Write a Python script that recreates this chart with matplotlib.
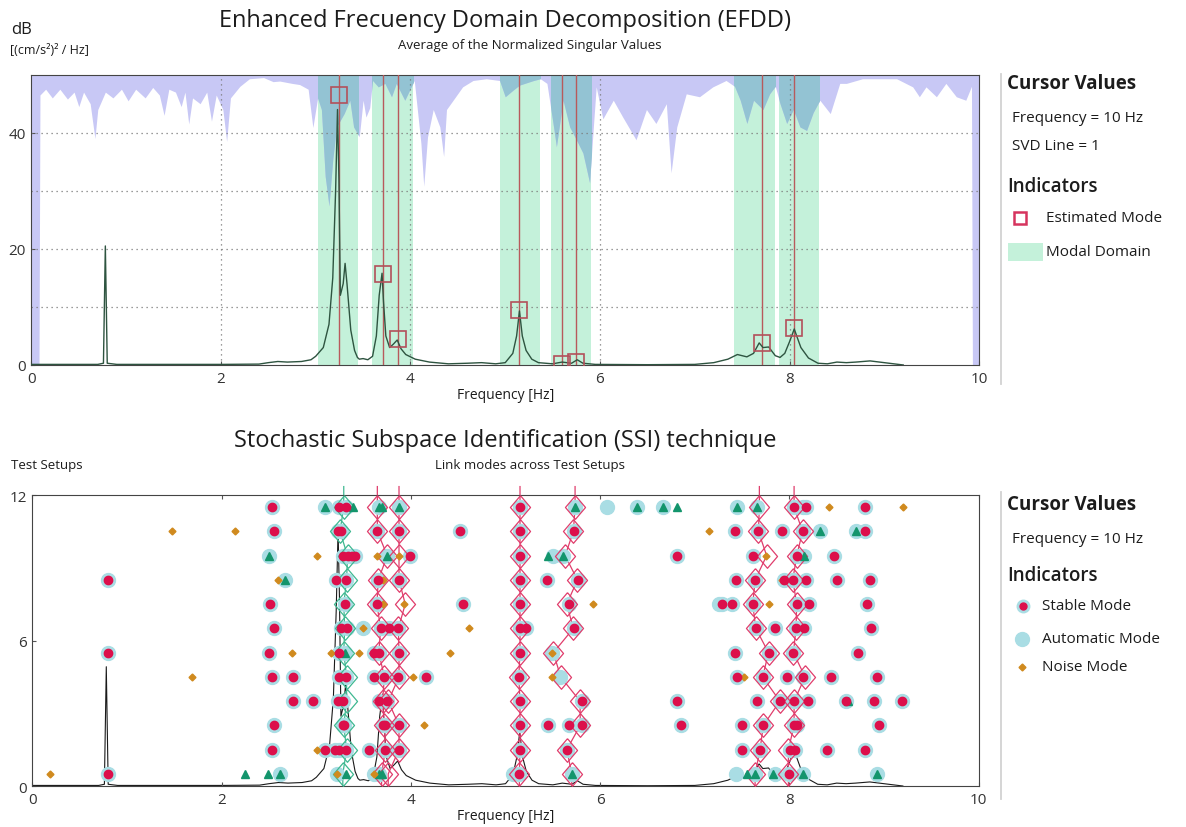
import matplotlib
matplotlib.use("Agg")
import matplotlib.pyplot as plt
from matplotlib.patches import Rectangle

plt.rcParams['font.family'] = ['Open Sans', 'DejaVu Sans']

# ---------------- EFDD data ----------------
# averaged singular value spectrum (dB)
spec_freq = [0.0, 0.7, 0.76, 0.78, 0.80, 0.9, 2.0, 2.4, 2.5, 2.6, 2.7, 2.85, 2.95, 3.0, 3.08,
             3.14, 3.18, 3.21, 3.23, 3.245, 3.26, 3.29, 3.31, 3.33, 3.37, 3.41, 3.44, 3.46, 3.5,
             3.55, 3.6, 3.64, 3.67, 3.70, 3.715, 3.74, 3.78, 3.82, 3.86, 3.9, 3.95, 4.05, 4.2,
             4.4, 4.6, 4.75, 4.9, 5.0, 5.08, 5.12, 5.15, 5.18, 5.22, 5.28, 5.35, 5.5, 5.6, 5.7,
             5.76, 5.82, 5.95, 6.5, 7.0, 7.2, 7.35, 7.45, 7.55, 7.62, 7.68, 7.72, 7.78, 7.85,
             7.9, 7.95, 8.0, 8.05, 8.08, 8.12, 8.2, 8.3, 8.4, 8.5, 8.6, 8.7, 8.85, 8.95, 9.1, 9.2]
spec_db = [0.1, 0.1, 0.3, 20.5, 0.3, 0.1, 0.1, 0.15, 0.4, 0.6, 0.5, 0.6, 0.9, 1.5, 3.0,
           7.0, 15.0, 30.0, 44.0, 32.0, 12.0, 14.0, 17.5, 14.0, 6.0, 2.5, 1.3, 1.0, 1.1,
           0.9, 1.5, 5.0, 12.0, 15.8, 11.0, 5.0, 3.0, 3.6, 4.3, 2.8, 1.8, 1.0, 0.5,
           0.2, 0.3, 0.4, 0.2, 0.4, 2.0, 5.0, 9.3, 5.0, 2.5, 1.0, 0.4, 0.2, 0.5, 0.3,
           0.9, 0.3, 0.1, 0.05, 0.1, 0.4, 1.0, 1.8, 1.4, 2.0, 3.8, 3.0, 3.1, 1.6,
           1.3, 2.0, 4.0, 6.2, 4.8, 3.0, 1.2, 0.3, 0.2, 0.5, 0.4, 0.5, 0.7, 0.5, 0.2, 0.0]

# lower edge of the normalized singular value band (filled up to the top)
svd_freq = [0.0, 0.08, 0.09, 0.15, 0.22, 0.3, 0.38, 0.45, 0.5, 0.55, 0.62, 0.67, 0.7, 0.78,
            0.86, 0.95, 1.02, 1.1, 1.2, 1.28, 1.35, 1.4, 1.45, 1.52, 1.58, 1.62, 1.66, 1.7,
            1.78, 1.85, 1.9, 1.95, 2.02, 2.06, 2.1, 2.2, 2.3, 2.45, 2.55, 2.62, 2.75, 2.83,
            2.92, 2.97, 3.02, 3.06, 3.10, 3.14, 3.18, 3.22, 3.3, 3.36, 3.40, 3.46, 3.50,
            3.53, 3.57, 3.60, 3.66, 3.73, 3.80, 3.85, 3.94, 4.04, 4.11, 4.14, 4.18, 4.24,
            4.31, 4.35, 4.38, 4.45, 4.55, 4.66, 4.80, 4.94, 5.0, 5.08, 5.15, 5.3, 5.37,
            5.44, 5.51, 5.54, 5.61, 5.68, 5.75, 5.82, 5.89, 5.93, 5.96, 6.03, 6.14, 6.24,
            6.38, 6.49, 6.59, 6.70, 6.75, 6.81, 6.91, 7.05, 7.19, 7.33, 7.42, 7.48, 7.55,
            7.62, 7.72, 7.79, 7.85, 7.90, 7.97, 8.04, 8.11, 8.18, 8.25, 8.32, 8.43, 8.53,
            8.60, 8.77, 9.13, 9.30, 9.37, 9.44, 9.55, 9.65, 9.76, 9.86, 9.92, 9.93, 10.0]
svd_db = [0.0, 0.0, 46.5, 47.5, 46.0, 47.5, 45.8, 47.0, 44.5, 47.0, 45.0, 39.0, 44.0, 47.0,
          46.0, 47.5, 45.5, 47.5, 46.0, 47.8, 46.5, 43.0, 47.5, 47.0, 44.5, 47.0, 41.5, 46.0,
          45.0, 47.0, 42.0, 46.5, 44.0, 38.5, 46.0, 48.0, 49.3, 49.5, 48.8, 48.9, 48.5, 48.3,
          47.5, 40.9, 46.0, 44.0, 32.5, 27.4, 35.4, 41.0, 43.3, 45.6, 41.0, 39.3, 45.6,
          42.7, 44.3, 49.0, 47.9, 48.5, 46.2, 48.5, 45.6, 49.0, 38.2, 30.8, 39.3, 44.0,
          41.0, 35.9, 44.0, 45.6, 47.9, 49.0, 49.3, 49.0, 46.2, 47.3, 48.2, 49.0, 49.3,
          48.5, 41.0, 37.6, 45.6, 41.0, 38.8, 36.5, 31.4, 41.0, 47.9, 42.4, 45.6, 42.7,
          38.8, 44.0, 41.6, 45.0, 33.1, 41.0, 46.7, 46.2, 47.9, 49.0, 48.0, 45.6, 41.6,
          45.6, 44.0, 46.7, 48.0, 45.0, 41.6, 44.0, 41.0, 40.4, 43.5, 45.6, 43.3, 48.5,
          48.5, 49.3, 49.3, 47.9, 46.2, 47.9, 46.2, 48.5, 46.2, 45.6, 48.0, 0.0, 0.0]

domain_lo = [3.02, 3.596, 4.94, 5.478, 7.415, 7.893]
domain_hi = [3.45, 4.022, 5.368, 5.91, 7.847, 8.311]

mode_freq = [3.25, 3.71, 3.87, 5.15, 5.60, 5.75, 7.71, 8.05]
mode_db = [46.5, 15.6, 4.4, 9.4, 0.2, 0.55, 3.8, 6.3]

# ---------------- SSI data (one list per test setup, 1..12) ----------------
setups = [1, 2, 3, 4, 5, 6, 7, 8, 9, 10, 11, 12]

stable_modes = [
    [0.795, 5.146, 7.998],
    [2.535, 3.092, 3.198, 3.244, 3.31, 3.557, 3.73, 3.874, 5.153, 5.646, 7.50, 7.69, 8.01, 8.06, 8.403, 8.80],
    [2.556, 3.279, 3.297, 3.70, 3.73, 3.874, 5.153, 5.452, 5.674, 5.805, 6.856, 7.50, 7.725, 8.05, 8.078, 8.945],
    [2.75, 2.962, 3.226, 3.279, 3.663, 3.751, 5.153, 5.805, 6.81, 7.66, 7.902, 8.05, 8.20, 8.60, 8.895, 9.188],
    [2.535, 2.756, 3.244, 3.31, 3.61, 3.72, 3.867, 4.16, 5.14, 7.45, 7.718, 7.973, 8.14, 8.438, 8.924],
    [0.795, 2.503, 3.244, 3.61, 3.663, 3.874, 5.153, 7.43, 7.78, 8.043, 8.73],
    [2.556, 3.261, 3.321, 3.68, 3.772, 3.867, 5.153, 5.216, 5.724, 7.645, 7.849, 8.071, 8.16, 8.864],
    [2.51, 3.303, 3.645, 4.555, 5.153, 5.67, 7.292, 7.394, 7.613, 8.078, 8.205, 8.825],
    [0.795, 3.21, 3.31, 3.655, 3.874, 5.153, 5.442, 5.77, 7.44, 7.638, 7.948, 8.036, 8.177, 8.501, 8.853],
    [3.279, 3.339, 3.374, 3.41, 3.99, 5.153, 6.81, 7.613, 8.078, 8.473],
    [2.556, 3.23, 3.265, 3.645, 3.874, 4.52, 5.153, 5.724, 7.422, 7.673, 7.92, 8.142, 8.80],
    [2.535, 3.244, 3.31, 5.153, 8.05, 8.177, 8.80],
]

auto_modes = [
    [2.617, 3.216, 3.61, 3.66, 5.083, 5.70, 7.437, 7.637, 7.849, 8.142, 8.924],
    [], [], [],
    [5.58],
    [3.30, 5.495],
    [3.497],
    [7.26],
    [2.67],
    [2.503, 3.751, 5.505, 5.611, 8.16],
    [8.325, 8.702],
    [3.092, 3.66, 3.874, 5.734, 6.069, 6.387, 6.668, 7.45, 7.66, 8.14],
]

tri_modes = [
    [2.247, 2.487, 2.617, 3.311, 3.66, 3.69, 5.70, 7.55, 7.637, 7.824, 8.142, 8.924],
    [], [],
    [8.62],
    [],
    [3.30],
    [], [],
    [2.67],
    [2.503, 3.751, 5.452, 5.611, 8.16],
    [8.325, 8.702],
    [3.092, 3.39, 3.66, 3.69, 3.874, 5.734, 6.387, 6.668, 6.817, 7.45, 7.66],
]

noise_modes = [
    [0.185, 3.216, 3.61],
    [3.004],
    [4.139],
    [],
    [1.682, 4.019, 5.495, 7.521],
    [2.74, 3.155, 3.455, 4.414, 5.495],
    [3.497, 4.618],
    [3.70, 3.927, 5.928, 7.78],
    [2.598, 3.70, 7.92],
    [3.004, 3.645, 3.874, 7.75],
    [1.478, 2.14, 7.152],
    [8.424, 9.199],
]

# modes linked across setups (frequency for setups 1..12)
green_chain = [3.28, 3.32, 3.29, 3.32, 3.32, 3.29, 3.30, 3.29, 3.32, 3.33, 3.25, 3.29]
red_chains = [
    [3.69, 3.73, 3.72, 3.70, 3.72, 3.66, 3.68, 3.64, 3.655, 3.75, 3.645, 3.645],
    [3.76, 3.874, 3.874, 3.76, 3.874, 3.874, 3.867, 3.94, 3.874, 3.874, 3.874, 3.874],
    [5.146, 5.153, 5.153, 5.153, 5.14, 5.153, 5.153, 5.153, 5.153, 5.153, 5.153, 5.153],
    [5.70, 5.647, 5.79, 5.788, 5.583, 5.506, 5.717, 5.647, 5.76, 5.63, 5.717, 5.735],
    [7.638, 7.69, 7.725, 7.90, 7.718, 7.78, 7.645, 7.613, 7.638, 7.76, 7.673, 7.683],
    [7.99, 7.99, 8.05, 8.05, 8.166, 8.043, 8.07, 8.078, 8.036, 8.078, 8.14, 8.05],
]

LAV = '#c8c8f5'
MINT = '#c4f1da'
OVER = '#93c3d3'
MODE_RED = '#b85a5c'
CYAN = '#a9dde4'
DOT = '#dc0f4b'
TRI = '#13956c'
NOISE = '#d08a1e'
PINK = '#e03d6c'
TEAL = '#3fb891'
TXT = '#1c1c1c'

# slightly elongated diamond used for the linked modes
tall_diamond = [(0, 1), (0.85, 0), (0, -1), (-0.85, 0), (0, 1)]

fig = plt.figure(figsize=(11.86, 8.28), dpi=100)

# ---------------- top panel ----------------
ax1 = fig.add_axes([0.0265, 0.558, 0.799, 0.3506])
ax1.set_xlim(0, 10)
ax1.set_ylim(0, 50)
ax1.fill_between(svd_freq, svd_db, 50, color=LAV, lw=0, zorder=1)
for lo, hi in zip(domain_lo, domain_hi):
    ax1.axvspan(lo, hi, color=MINT, lw=0, zorder=0.5)
    pc = ax1.fill_between(svd_freq, svd_db, 50, color=OVER, lw=0, zorder=1.1)
    pc.set_clip_path(Rectangle((lo, 0), hi - lo, 50, transform=ax1.transData))
for v in [2, 4, 6, 8]:
    ax1.axvline(v, color='#7a7a7a', ls=(0, (1, 3)), lw=0.9, zorder=2)
for v in [10, 20, 30, 40]:
    ax1.axhline(v, color='#7a7a7a', ls=(0, (1, 3)), lw=0.9, zorder=2)
for f in mode_freq:
    ax1.axvline(f, color=MODE_RED, lw=1.0, zorder=3)
ax1.plot(spec_freq, spec_db, color='#2e5440', lw=1.0, zorder=4)
ax1.plot(mode_freq, mode_db, 's', ms=12, mfc='none', mec='#b3505a', mew=1.2, ls='none', zorder=5)
ax1.set_xticks([0, 2, 4, 6, 8, 10])
ax1.set_yticks([0, 20, 40])
ax1.tick_params(direction='in', length=3, labelsize=11, labelcolor='#333', color='#555', pad=4)
ax1.set_xlabel('Frequency [Hz]', fontsize=10, labelpad=1, color=TXT)
for s in ax1.spines.values():
    s.set_color('#444')

# ---------------- bottom panel ----------------
ax2 = fig.add_axes([0.0274, 0.0495, 0.7977, 0.3514])
axs = ax2.twinx()
axs.set_ylim(0, 50)
axs.axis('off')
axs.plot(spec_freq, spec_db, color='#1a1a1a', lw=0.8)
ax2.set_zorder(2)
axs.set_zorder(1)
ax2.patch.set_visible(False)

ax2.set_xlim(0, 10)
ax2.set_ylim(0, 12)
pos = [s - 0.5 for s in setups]


def flat(modes):
    xs, ys = [], []
    for y, row in zip(pos, modes):
        xs += row
        ys += [y] * len(row)
    return xs, ys


sx, sy = flat(stable_modes)
ax_, ay_ = flat(auto_modes)
tx, ty = flat(tri_modes)
nx, ny = flat(noise_modes)

ax2.plot(green_chain[:1] + green_chain + green_chain[-1:], [0] + pos + [12.35],
         color=TEAL, lw=0.9, zorder=2, clip_on=False)
for ch in red_chains:
    ax2.plot(ch[:1] + ch + ch[-1:], [0] + pos + [12.35], color=PINK, lw=0.9, zorder=2, clip_on=False)

ax2.plot(sx + ax_, sy + ay_, 'o', ms=10, color=CYAN, ls='none', zorder=3)
ax2.plot(green_chain, pos, marker=tall_diamond, ms=17, mfc='none', mec=TEAL, mew=0.9, ls='none', zorder=4)
for ch in red_chains:
    ax2.plot(ch, pos, marker=tall_diamond, ms=17, mfc='none', mec=PINK, mew=0.9, ls='none', zorder=4)
ax2.plot(tx, ty, '^', ms=5.5, color=TRI, ls='none', zorder=5)
ax2.plot(nx, ny, 'D', ms=3.5, color=NOISE, ls='none', zorder=5)
ax2.plot(sx, sy, 'o', ms=6, color=DOT, ls='none', zorder=6)

ax2.set_xticks([0, 2, 4, 6, 8, 10])
ax2.set_yticks([0, 6, 12])
ax2.tick_params(direction='in', length=3, labelsize=11, labelcolor='#333', color='#555',
                pad=4, top=True)
ax2.set_xlabel('Frequency [Hz]', fontsize=10, labelpad=1, color=TXT)
for s in ax2.spines.values():
    s.set_color('#444')

# ---------------- titles and side panels (pixel coordinates) ----------------
axo = fig.add_axes([0, 0, 1, 1], zorder=10)
axo.set_xlim(0, 1186)
axo.set_ylim(828, 0)
axo.axis('off')

axo.text(505, 21, 'Enhanced Frecuency Domain Decomposition (EFDD)', fontsize=17, ha='center', va='center', color=TXT)
axo.text(530, 45, 'Average of the Normalized Singular Values', fontsize=9.5, ha='center', va='center', color=TXT)
axo.text(11, 30, 'dB', fontsize=12, ha='left', va='center', color=TXT)
axo.text(10, 50, '[(cm/s\u00b2)\u00b2 / Hz]', fontsize=9, ha='left', va='center', color=TXT)

axo.text(505, 441, 'Stochastic Subspace Identification (SSI) technique', fontsize=17, ha='center', va='center', color=TXT)
axo.text(530, 466, 'Link modes across Test Setups', fontsize=9.5, ha='center', va='center', color=TXT)
axo.text(11, 466, 'Test Setups', fontsize=9.5, ha='left', va='center', color=TXT)

axo.plot([1001, 1001], [75, 385], color='#d2d2d2', lw=1.3)
axo.plot([1001, 1001], [493, 800], color='#d2d2d2', lw=1.3)

axo.text(1007, 84, 'Cursor Values', fontsize=13.5, fontweight='bold', ha='left', va='center', color=TXT)
axo.text(1012, 118, 'Frequency = 10 Hz', fontsize=11, ha='left', va='center', color=TXT)
axo.text(1012, 146, 'SVD Line = 1', fontsize=11, ha='left', va='center', color=TXT)
axo.text(1007, 187, 'Indicators', fontsize=13.5, fontweight='semibold', ha='left', va='center', color=TXT)
axo.plot([1020], [219], 's', ms=9, mfc='none', mec='#d6345e', mew=1.8)
axo.text(1046, 219, 'Estimated Mode', fontsize=11, ha='left', va='center', color=TXT)
axo.add_patch(Rectangle((1008, 244), 35, 18, color=MINT, lw=0))
axo.text(1046, 253, 'Modal Domain', fontsize=11, ha='left', va='center', color=TXT)

axo.text(1007, 505, 'Cursor Values', fontsize=13.5, fontweight='bold', ha='left', va='center', color=TXT)
axo.text(1012, 540, 'Frequency = 10 Hz', fontsize=11, ha='left', va='center', color=TXT)
axo.text(1007, 576, 'Indicators', fontsize=13.5, fontweight='semibold', ha='left', va='center', color=TXT)
axo.plot([1023], [607], 'o', ms=9, color=CYAN)
axo.plot([1023], [607], 'o', ms=5, color=DOT)
axo.text(1042, 607, 'Stable Mode', fontsize=11, ha='left', va='center', color=TXT)
axo.plot([1022], [640], 'o', ms=10, color=CYAN)
axo.text(1042, 640, 'Automatic Mode', fontsize=11, ha='left', va='center', color=TXT)
axo.plot([1022], [668], 'D', ms=3.5, color=NOISE)
axo.text(1042, 668, 'Noise Mode', fontsize=11, ha='left', va='center', color=TXT)

fig.savefig('out.png', dpi=100, facecolor='white')
